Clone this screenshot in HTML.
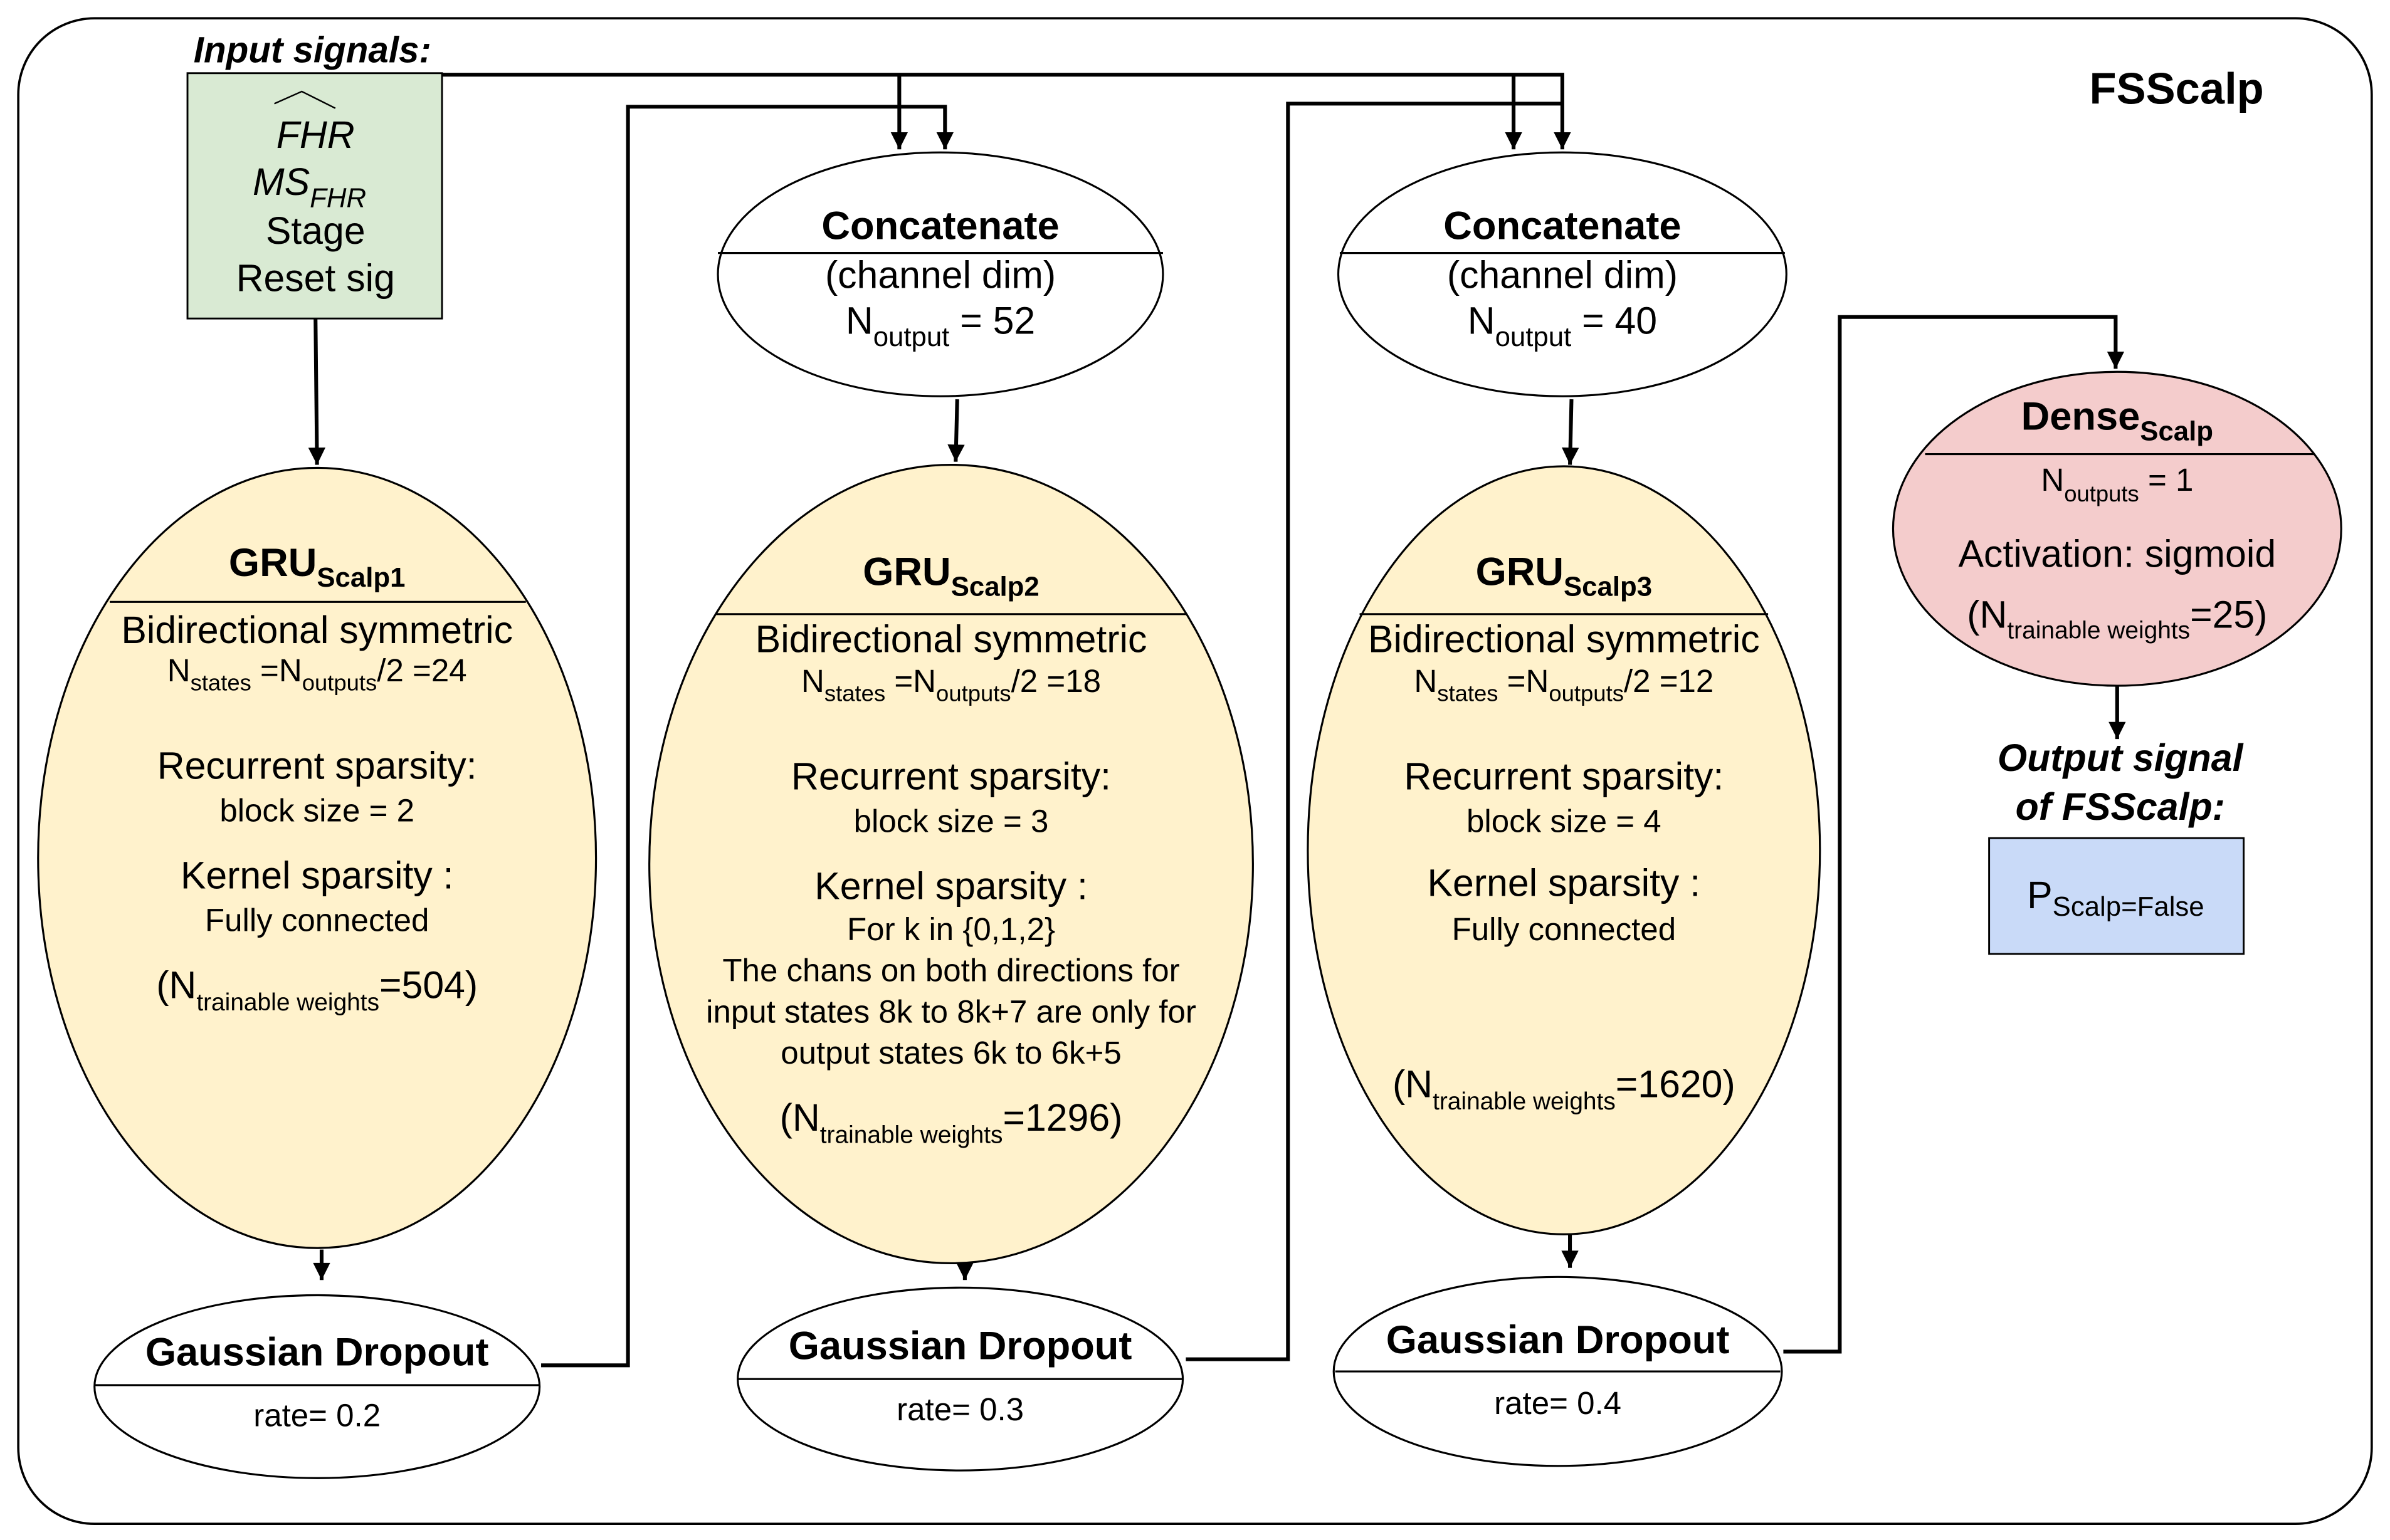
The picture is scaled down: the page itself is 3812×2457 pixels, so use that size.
<!DOCTYPE html>
<html><head><meta charset="utf-8"><style>
html,body{margin:0;padding:0;background:#fff}
svg{display:block}
text{font-family:"Liberation Sans",Arial,sans-serif;fill:#000}
</style></head><body>
<svg width="3812" height="2457" viewBox="0 0 1568 1010.6" xmlns="http://www.w3.org/2000/svg">
<defs>
<marker id="a" viewBox="0 0 10 10" refX="10" refY="5" markerWidth="5" markerHeight="4.5" orient="auto" markerUnits="strokeWidth">
<path d="M0,0 L10,5 L0,10 z" fill="#000"/></marker>
</defs>
<rect x="12" y="12" width="1544" height="988" rx="50" ry="50" fill="#fff" stroke="#000" stroke-width="1.5"/>
<text x="1428" y="68" font-size="29" font-weight="bold" text-anchor="middle">FSScalp</text>
<text x="127" y="41" font-size="24" font-weight="bold" font-style="italic">Input signals:</text>

<rect x="123" y="48" width="167" height="161" fill="#d9ead3" stroke="#000" stroke-width="1.2"/>
<path d="M180,68 L198,60 L220,71" fill="none" stroke="#000" stroke-width="1"/>
<g font-size="25" text-anchor="middle">
<text x="207" y="97" font-style="italic">FHR</text>
<text x="203" y="128" font-style="italic">MS<tspan font-size="18" dy="8">FHR</tspan></text>
<text x="207" y="160">Stage</text>
<text x="207" y="191">Reset sig</text>
</g>

<g fill="none" stroke="#000" stroke-width="2.5">
<path d="M290,49 L1025,49 L1025,98" marker-end="url(#a)"/>
<path d="M590,49 L590,98" marker-end="url(#a)"/>
<path d="M993,49 L993,98" marker-end="url(#a)"/>
<path d="M355,896 L412,896 L412,70 L620,70 L620,98" marker-end="url(#a)"/>
<path d="M778,892 L845,892 L845,68 L1025,68" />
<path d="M1170,887 L1207,887 L1207,208 L1388,208 L1388,242" marker-end="url(#a)"/>
<path d="M207,209 L208,305" marker-end="url(#a)"/>
<path d="M628,262 L627,303" marker-end="url(#a)"/>
<path d="M1031,262 L1030,305" marker-end="url(#a)"/>
<path d="M211,820 L211,840" marker-end="url(#a)"/>
<path d="M633,830 L633,840" marker-end="url(#a)"/>
<path d="M1030,810 L1030,832" marker-end="url(#a)"/>
<path d="M1389,450 L1389,485" marker-end="url(#a)"/>
</g>

<g stroke="#000" stroke-width="1.3" fill="#fff">
<ellipse cx="617" cy="180" rx="146" ry="80"/>
<ellipse cx="1025" cy="180" rx="147" ry="80"/>
<ellipse cx="208" cy="563" rx="183" ry="256" fill="#fff2cc"/>
<ellipse cx="624" cy="567" rx="198" ry="262" fill="#fff2cc"/>
<ellipse cx="1026" cy="558" rx="168" ry="252" fill="#fff2cc"/>
<ellipse cx="208" cy="910" rx="146" ry="60"/>
<ellipse cx="630" cy="905" rx="146" ry="60"/>
<ellipse cx="1022" cy="900" rx="147" ry="62"/>
<ellipse cx="1389" cy="347" rx="147" ry="103" fill="#f4cccc"/>
</g>
<g stroke="#000" stroke-width="1.3">
<line x1="471" y1="166" x2="763" y2="166"/>
<line x1="879" y1="166" x2="1171" y2="166"/>
<line x1="72" y1="395" x2="345" y2="395"/>
<line x1="470" y1="403" x2="778" y2="403"/>
<line x1="892" y1="403" x2="1160" y2="403"/>
<line x1="62" y1="909" x2="354" y2="909"/>
<line x1="484" y1="905" x2="776" y2="905"/>
<line x1="876" y1="900" x2="1168" y2="900"/>
<line x1="1263" y1="298" x2="1518" y2="298"/>
</g>

<g text-anchor="middle" font-size="25">
<text x="617" y="157" font-weight="bold" font-size="26">Concatenate</text>
<text x="617" y="189">(channel dim)</text>
<text x="617" y="219">N<tspan font-size="18" dy="8">output</tspan><tspan dy="-8"> = 52</tspan></text>
<text x="1025" y="157" font-weight="bold" font-size="26">Concatenate</text>
<text x="1025" y="189">(channel dim)</text>
<text x="1025" y="219">N<tspan font-size="18" dy="8">output</tspan><tspan dy="-8"> = 40</tspan></text>

<text x="208" y="378" font-weight="bold" font-size="26">GRU<tspan font-size="18" dy="7">Scalp1</tspan></text>
<text x="208" y="422">Bidirectional symmetric</text>
<text x="208" y="447" font-size="21">N<tspan font-size="15" dy="6">states</tspan><tspan dy="-6"> =N</tspan><tspan font-size="15" dy="6">outputs</tspan><tspan dy="-6">/2 =24</tspan></text>
<text x="208" y="511">Recurrent sparsity:</text>
<text x="208" y="539" font-size="21">block size = 2</text>
<text x="208" y="583">Kernel sparsity :</text>
<text x="208" y="611" font-size="21">Fully connected</text>
<text x="208" y="655">(N<tspan font-size="16" dy="8">trainable weights</tspan><tspan dy="-8">=504)</tspan></text>

<text x="624" y="384" font-weight="bold" font-size="26">GRU<tspan font-size="18" dy="7">Scalp2</tspan></text>
<text x="624" y="428">Bidirectional symmetric</text>
<text x="624" y="454" font-size="21">N<tspan font-size="15" dy="6">states</tspan><tspan dy="-6"> =N</tspan><tspan font-size="15" dy="6">outputs</tspan><tspan dy="-6">/2 =18</tspan></text>
<text x="624" y="518">Recurrent sparsity:</text>
<text x="624" y="546" font-size="21">block size = 3</text>
<text x="624" y="590">Kernel sparsity :</text>
<text x="624" y="617" font-size="21">For k in {0,1,2}</text>
<text x="624" y="644" font-size="21">The chans on both directions for</text>
<text x="624" y="671" font-size="21">input states 8k to 8k+7 are only for</text>
<text x="624" y="698" font-size="21">output states 6k to 6k+5</text>
<text x="624" y="742">(N<tspan font-size="16" dy="8">trainable weights</tspan><tspan dy="-8">=1296)</tspan></text>

<text x="1026" y="384" font-weight="bold" font-size="26">GRU<tspan font-size="18" dy="7">Scalp3</tspan></text>
<text x="1026" y="428">Bidirectional symmetric</text>
<text x="1026" y="454" font-size="21">N<tspan font-size="15" dy="6">states</tspan><tspan dy="-6"> =N</tspan><tspan font-size="15" dy="6">outputs</tspan><tspan dy="-6">/2 =12</tspan></text>
<text x="1026" y="518">Recurrent sparsity:</text>
<text x="1026" y="546" font-size="21">block size = 4</text>
<text x="1026" y="588">Kernel sparsity :</text>
<text x="1026" y="617" font-size="21">Fully connected</text>
<text x="1026" y="720">(N<tspan font-size="16" dy="8">trainable weights</tspan><tspan dy="-8">=1620)</tspan></text>

<text x="208" y="896" font-weight="bold" font-size="26">Gaussian Dropout</text>
<text x="208" y="936" font-size="21">rate= 0.2</text>
<text x="630" y="892" font-weight="bold" font-size="26">Gaussian Dropout</text>
<text x="630" y="932" font-size="21">rate= 0.3</text>
<text x="1022" y="888" font-weight="bold" font-size="26">Gaussian Dropout</text>
<text x="1022" y="928" font-size="21">rate= 0.4</text>

<text x="1389" y="282" font-weight="bold" font-size="26">Dense<tspan font-size="18" dy="7">Scalp</tspan></text>
<text x="1389" y="322" font-size="21">N<tspan font-size="15" dy="7">outputs</tspan><tspan dy="-7"> = 1</tspan></text>
<text x="1389" y="372">Activation: sigmoid</text>
<text x="1389" y="412">(N<tspan font-size="16" dy="7">trainable weights</tspan><tspan dy="-7">=25)</tspan></text>

<text x="1391" y="506" font-weight="bold" font-style="italic">Output signal</text>
<text x="1391" y="538" font-weight="bold" font-style="italic">of FSScalp:</text>
</g>
<rect x="1305" y="550" width="167" height="76" fill="#c9daf8" stroke="#000" stroke-width="1.2"/>
<text x="1388" y="596" font-size="25" text-anchor="middle">P<tspan font-size="18" dy="5">Scalp=False</tspan></text>
</svg>
</body></html>
